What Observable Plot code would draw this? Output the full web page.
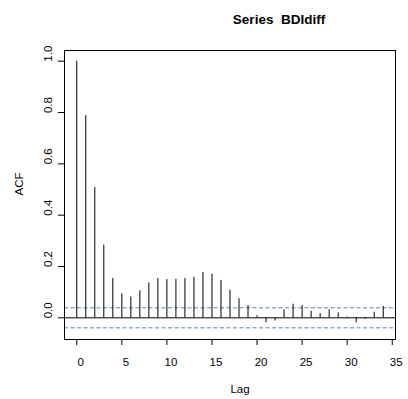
<!DOCTYPE html>
<html>
<head>
<meta charset="utf-8">
<script src="https://cdn.jsdelivr.net/npm/d3@7"></script>
<script src="https://cdn.jsdelivr.net/npm/@observablehq/plot@0.6"></script>
<style>
  html, body { margin: 0; padding: 0; background: #fff; }
</style>
</head>
<body>
<div id="chart"></div>
<script>
const title = "Series  BDIdiff";
const xLabel = "Lag";
const yLabel = "ACF";
const lags = [0,1,2,3,4,5,6,7,8,9,10,11,12,13,14,15,16,17,18,19,20,21,22,23,24,25,26,27,28,29,30,31,32,33,34];
const acfValues = [1.000, 0.788, 0.508, 0.283, 0.153, 0.094, 0.081, 0.105, 0.136, 0.153,
                   0.149, 0.150, 0.153, 0.158, 0.176, 0.170, 0.146, 0.107, 0.074, 0.047,
                   0.008, -0.019, -0.012, 0.031, 0.053, 0.048, 0.025, 0.016, 0.031, 0.019,
                   0.003, -0.019, -0.006, 0.022, 0.044];
const ciBounds = [0.039, -0.039];
const xTicks = [0, 5, 10, 15, 20, 25, 30, 35];
const yTicks = [0.0, 0.2, 0.4, 0.6, 0.8, 1.0];
const yTickLabels = ["0.0", "0.2", "0.4", "0.6", "0.8", "1.0"];

const data = lags.map((lag, i) => ({lag, acf: acfValues[i]}));
const yTickData = yTicks.map((v, i) => ({v, label: yTickLabels[i]}));

const font = "'Liberation Sans', Arial, Helvetica, sans-serif";

const chart = Plot.plot({
  width: 408,
  height: 399,
  marginLeft: 64,
  marginRight: 13,
  marginTop: 50,
  marginBottom: 60,
  style: {fontFamily: font, fontSize: "11.5px", background: "#fff", color: "#000"},
  x: {domain: [-1.36, 35.36], axis: null},
  y: {domain: [-0.0845, 1.0417], axis: null},
  marks: [
    Plot.ruleY([0], {stroke: "#000", strokeWidth: 1}),
    Plot.ruleY(ciBounds, {stroke: "#5a7fd2", strokeWidth: 1, strokeDasharray: "4,2.5"}),
    Plot.ruleX(data, {x: "lag", y1: 0, y2: "acf", stroke: "#000", strokeWidth: 1}),
    Plot.frame({stroke: "#000", strokeWidth: 1}),
    Plot.axisX({ticks: xTicks, tickSize: 6, tickFormat: () => "", label: null, stroke: "#000"}),
    Plot.axisY({ticks: yTicks, tickSize: 6, tickFormat: () => "", label: null, stroke: "#000"}),
    Plot.text(xTicks, {x: d => d, text: d => String(d), frameAnchor: "bottom", lineAnchor: "middle", dy: 23, dx: 4, fontSize: 11.5, fill: "#000"}),
    Plot.text(yTickData, {y: "v", text: "label", frameAnchor: "left", rotate: -90, lineAnchor: "middle", textAnchor: "middle", dx: -15.7, dy: -7.5, fontSize: 11.5, fill: "#000"}),
    Plot.text([xLabel], {frameAnchor: "bottom", lineAnchor: "middle", dx: 10, dy: 50, fontSize: 11.5, fill: "#000"}),
    Plot.text([yLabel], {frameAnchor: "left", rotate: -90, lineAnchor: "middle", textAnchor: "middle", dx: -45, dy: -11, fontSize: 11.5, fill: "#000"}),
    Plot.text([title], {frameAnchor: "top", lineAnchor: "middle", dx: 49, dy: -31, fontSize: 13.5, fontWeight: "bold", fill: "#000"})
  ]
});
document.getElementById("chart").appendChild(chart);
</script>
</body>
</html>
